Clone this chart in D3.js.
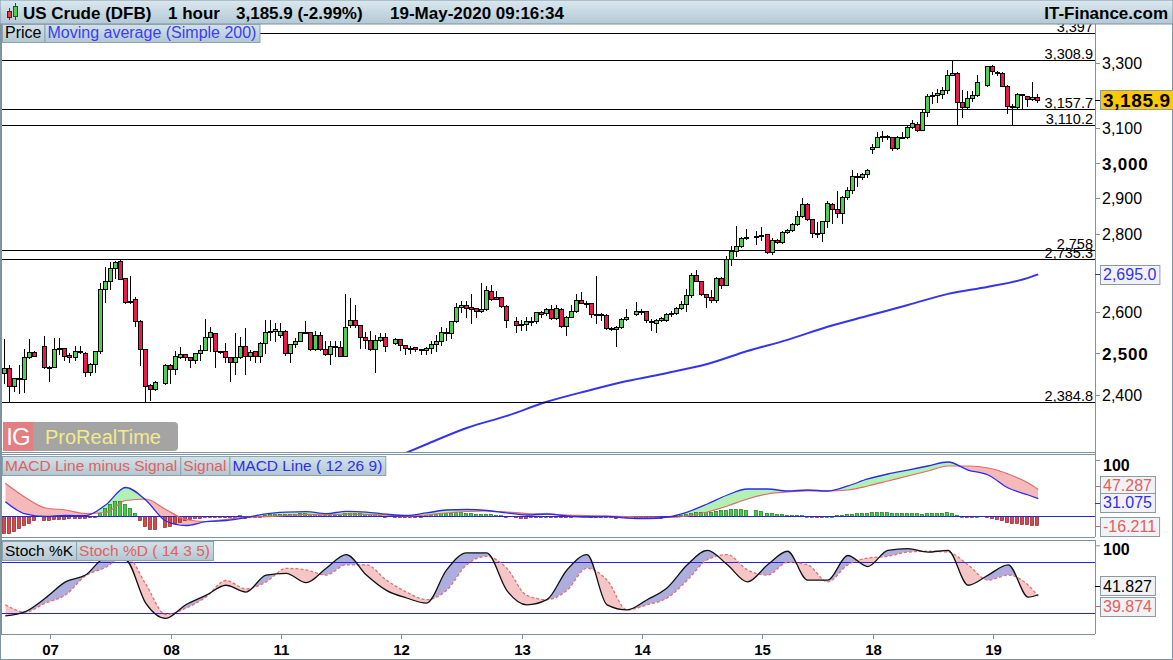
<!DOCTYPE html>
<html><head><meta charset="utf-8">
<script src="https://cdn.jsdelivr.net/npm/d3@7"></script>
<style>
body{margin:0;background:#fff;}
svg{display:block;font-family:"Liberation Sans",Arial,sans-serif;}
</style>
</head><body>
<svg id="c" width="1173" height="660"></svg>
<script>
// ---------------- DATA ----------------
// hourly candles, slot 0..206 (null = session break)
const open = [
2451,2463,2422,2437,2437,2489,2501,null,2515,2467,
2466,2508,2511,2494,2489,2505,2499,2455,2473,2503,
2657,2678,2711,2730,2685,2624,2632,2576,2508,2424,
2414,null,2428,2471,2461,2489,2496,2489,2483,2499,
2507,2538,2547,2503,2505,2489,2477,2489,2517,2491,
2504,2493,2524,2549,2552,2542,2553,2499,2521,2528,
2549,2550,2510,2542,2508,2498,2516,2513,2492,2567,
2580,2567,2537,2530,2508,2530,2537,null,2523,2533,
2518,2511,2513,2508,2506,2511,2521,2529,2549,2548,
2576,2611,2617,2611,2609,2602,2606,2653,2638,2637,
2615,null,2576,2568,2570,2577,2578,2599,2596,2606,
2584,2606,2565,2588,2602,2630,2623,2622,2594,2595,
2593,2559,2557,2563,2581,null,2594,2602,2601,2578,
2572,2580,2580,2595,2597,2609,2620,2641,2693,2678,
2644,2637,2630,2685,2668,2734,2757,2770,2790,null,
2794,2799,2800,2754,2785,2780,2806,2812,2828,2850,
2883,2841,2803,2803,2837,2883,2869,2858,2902,2922,
2962,2958,2967,3038,3046,3075,3076,3074,3041,3075,
3074,3103,3113,3095,3150,3198,3201,3203,3216,3263,
3270,3180,3163,3190,3201,null,3232,3290,3271,3269,
3229,3167,3163,3203,3198,3187,3194];
const high = [
2533,2471,2441,2471,2509,2533,2503,null,2541,2468,
2536,2536,2512,2499,2516,2515,2501,2475,2503,2672,
2715,2728,2730,2735.3,2686,2691,2638,2580,2509,2425,
2432,null,2473,2472,2503,2513,2497,2490,2499,2519,
2582,2563,2548,2505,2524,2490,2547,2539,2559,2507,
2505,2525,2580,2580,2572,2572,2554,2522,2535,2551,
2576,2551,2553,2551,2529,2529,2528,2528,2645,2634,
2617,2568,2551,2553,2543,2547,2547,null,2535,2534,
2519,2516,2514,2510,2513,2527,2543,2562,2559,2576,
2622,2626,2626,2645,2610,2672,2664,2668,2653,2638,
2616,null,2588,2580,2588,2588,2600,2601,2609,2617,
2617,2609,2589,2617,2645,2651,2626,2623,2691,2598,
2594,2563,2564,2584,2606,null,2624,2607,2602,2582,
2582,2588,2598,2603,2613,2626,2657,2698,2706,2679,
2645,2655,2687,2687,2743,2768,2823,2792,2814,null,
2810,2821,2801,2790,2787,2810,2816,2832,2865,2899,
2885,2842,2835,2837,2890,2885,2920,2905,2931,2979,
2969,2971,2982,3053,3090,3093,3080,3075,3077,3090,
3107,3125,3120,3155,3204,3209,3218,3226,3278,3308.9,
3271,3216,3214,3214,3263,null,3290,3295,3274,3271,
3230,3172,3208,3205,3199,3242,3204];
const low = [
2428,2384.8,2411,2405,2408,2487,2492,null,2463,2434,
2465,2497,2483,2479,2483,2500,2445,2447,2455,2500,
2625,2657,2685,2683,2622,2622,2565,2471,2388,2389,
2413,null,2426,2428,2450,2487,2483,2467,2475,2483,
2506,2503,2466,2499,2479,2432,2450,2488,2450,2483,
2479,2479,2499,2531,2529,2539,2494,2479,2513,2527,
2547,2507,2507,2507,2494,2473,2492,2491,2491,2563,
2563,2512,2512,2507,2455,2528,2503,null,2521,2507,
2496,2500,2503,2496,2496,2500,2503,2519,2531,2535,
2575,2600,2588,2572,2588,2600,2605,2629,2631,2613,
2563,null,2551,2555,2555,2567,2573,2588,2592,2583,
2583,2563,2543,2587,2600,2621,2613,2588,2572,2580,
2557,2555,2515,2561,2580,null,2592,2595,2575,2555,
2551,2577,2578,2590,2595,2606,2603,2638,2677,2642,
2611,2625,2625,2659,2667,2719,2743,2767,2787,null,
2775,2785,2750,2748,2778,2778,2803,2810,2825,2848,
2839,2792,2792,2783,2821,2830,2848,2832,2896,2913,
2933,2954,2960,3028,3045,3063,3067,3036,3040,3070,
3072,3100,3093,3094,3137,3175,3180,3190,3206,3262,
3110.2,3135,3162,3183,3197,null,3229,3266,3263,3227,
3147,3112,3162,3157.7,3167,3186,3180];
const close = [
2463,2422,2440,2440,2489,2501,2493,null,2466,2466,
2508,2511,2493,2489,2505,2501,2454,2473,2503,2657,
2678,2711,2728,2683,2624,2628,2576,2508,2422,2414,
2430,null,2471,2461,2491,2496,2489,2483,2499,2507,
2538,2550,2503,2502,2489,2477,2489,2515,2491,2501,
2493,2524,2549,2553,2557,2553,2499,2521,2528,2549,
2550,2510,2542,2508,2497,2516,2515,2492,2563,2580,
2567,2539,2530,2508,2530,2537,2516,null,2533,2518,
2511,2512,2508,2507,2511,2521,2529,2549,2548,2576,
2611,2617,2609,2607,2602,2606,2655,2632,2632,2615,
2580,null,2567,2570,2577,2578,2599,2594,2606,2584,
2609,2565,2588,2602,2630,2623,2622,2594,2595,2593,
2559,2558,2563,2581,2586,null,2603,2601,2580,2574,
2580,2585,2595,2597,2609,2620,2641,2693,2678,2644,
2637,2630,2685,2668,2734,2757,2770,2790,2792,null,
2795,2796,2754,2785,2780,2806,2812,2828,2850,2883,
2841,2803,2804,2837,2887,2869,2858,2902,2922,2962,
2958,2967,2979,3046,3075,3076,3074,3041,3075,3074,
3103,3117,3095,3150,3198,3201,3206,3216,3263,3270,
3180,3163,3190,3201,3240,null,3290,3274,3269,3229,
3167,3163,3204,3200,3187,3194,3185.9];

// Simple moving average 200 (read at these slots)
const maSlots  = [76,84,92,100,108,116,124,132,140,148,156,164,172,180,188,196,204,206];
const maValues = [2253,2290,2326,2353,2385,2410,2433,2452,2473,2504,2531,2563,2590,2617,2645,2663,2686,2695];

// horizontal levels
const levelValues = [3397,3308.9,3157.7,3110.2,2758,2735.3,2384.8];
const levelLabels = ["3,397","3,308.9","3,157.7","3,110.2","2,758","2,735.3","2,384.8"];

const priceTicks = [3300,3100,3000,2900,2800,2600,2500,2400];
const priceTickLabels = ["3,300","3,100","3,000","2,900","2,800","2,600","2,500","2,400"];
const boldPriceTicks = [3000,2500];

const daySlots  = [9,33,55,79,103,127,151,173,197];
const dayLabels = ["07","08","11","12","13","14","15","18","19"];

// indicators sampled at these slots
const indSlots = [0,4,8,12,16,20,24,28,32,36,40,44,48,52,56,60,64,68,72,76,80,84,88,92,96,100,
  104,108,112,116,120,124,128,132,136,140,144,148,152,156,160,164,168,172,176,180,184,188,192,196,200,204,206];
const macdLine = [25.5,3.6,-0.9,0.9,0.5,19.6,50.9,28.6,-8.9,-17,-10.2,-8,-2.7,3.9,6.8,7.7,4.1,8.4,7.1,3.2,0.9,5.4,10.7,11.6,9.8,5.4,
  1.8,3.6,0,-1.8,-0.9,-3.6,-4.5,-1.8,7.1,21.4,37.5,48.2,48.2,44.6,46.4,44.6,53.6,66.1,75,82.1,89.3,96.4,82.1,73.2,50,37.5,31.075];
const signalLine = [58.4,33,14.3,10.7,4.5,6.25,27.7,30.4,11.6,-6.25,-9.8,-6.25,-1.8,-1.25,0.9,3,2.1,3.2,3,1.4,0,1.8,5.4,8,8.9,7.1,
  4.5,3.6,1.8,0.9,0,-0.9,-1.8,-2.7,0,7.1,17.9,30.4,39.3,42.9,44.6,44.6,46.4,53.6,62.5,71.4,80.4,89.3,89.3,85.7,75,58.9,47.287];
const histogram = [
-30,-30,-26,-22,-16,-12,-8,null,-8,-7,
-6,-5,-5,-4,-4,-3,-3,-2,-1,5,
14,22,27,27,22,15,6,-8,-18,-24,
-24,null,-20,-17,-13,-10,-8,-6,-4,-3,
-2,-1,-2,-2,-1,-2,-1,1,-3,-2,
-2,-2,2,3,3,4,3,3,4,5,
5,4,3,2,1,1,2,2,5,6,
6,5,4,3,3,2,-1,null,-1,-2,
-2,-2,-1,-1,1,2,3,5,6,6,
7,7,6,5,4,4,4,3,2,1,
-1,null,-2,-3,-3,-2,-1,-1,0,-1,
-1,-2,-2,-1,1,1,1,0,-1,-1,
-2,-2,-3,-2,-1,null,-3,-3,-4,-4,
-4,-3,-2,-1,1,2,4,6,7,7,
7,8,9,10,11,12,13,12,11,null,
10,9,6,5,4,3,2,2,2,2,
0,-1,-1,-1,0,0,1,2,3,4,
5,5,6,7,8,8,7,6,5,5,
5,6,5,4,5,6,6,6,7,5,
2,0,-1,-1,0,null,-2,-4,-5,-7,
-10,-12,-13,-14,-15,-16,-16.211];
const stochK = [17,22,38,57,65,85,83,32,14,30,41,53,45,65,67,56,73,89,65,47,38,32,71,91,91,47,
  30,36,71,89,30,24,36,50,77,94,77,57,77,93,59,59,88,75,94,96,92,94,53,65,77,39,41.827];
const stochD = [30,21.5,32,41.5,64,74,88.6,54.5,18.6,26,39,58.6,48.6,56.8,72.9,71,65,77,77,59,45,36,47,77,87,73,
  41,36,47,73,59,24,30,38,59,83,89,71,65,80,77,57,77,85,87,92,93,92,77,59,65,53,39.874];

// ---------------- LAYOUT ----------------
const W = 1173, H = 660;
const PL = 2, PR = 1095;
const priceTop = 24, priceBot = 452;
const macdTop = 455, macdBot = 537;
const stochTop = 540, stochBot = 634;
const frame = "#7d93a0";

const svg = d3.select("#c");
const defs = svg.append("defs");

function grad(id, c1, c2){
  const g = defs.append("linearGradient").attr("id", id).attr("x1",0).attr("y1",0).attr("x2",0).attr("y2",1);
  g.append("stop").attr("offset","0%").attr("stop-color",c1);
  g.append("stop").attr("offset","100%").attr("stop-color",c2);
}
grad("hdr", "#dbe8ef", "#b3c9d5");
grad("leg", "#d3e2ea", "#b2c7d2");

function clip(id, y0, y1){
  defs.append("clipPath").attr("id", id).append("rect")
    .attr("x", PL).attr("y", y0).attr("width", PR - PL).attr("height", y1 - y0);
}
clip("cpPrice", priceTop, priceBot);
clip("cpMacd", macdTop, macdBot);
clip("cpStoch", stochTop, stochBot);

const x  = d3.scaleLinear().domain([0, 206]).range([5.3, 1038.3]);
const yP = d3.scaleLog().domain([2273, 3426]).range([priceBot, priceTop]);
const yM = d3.scaleLinear().domain([0, 100]).range([516, 460]);
const yS = d3.scaleLinear().domain([20, 80]).range([613.3, 562.3]);

svg.append("rect").attr("width", W).attr("height", H).attr("fill", "#fff");

// ---------------- PRICE PANEL ----------------
const gP = svg.append("g").attr("clip-path", "url(#cpPrice)");

const maData = maSlots.map((s, k) => ({s, v: maValues[k]}));
gP.append("path").datum(maData)
  .attr("fill", "none").attr("stroke", "#3535e8").attr("stroke-width", 2)
  .attr("d", d3.line().x(d => x(d.s)).y(d => yP(d.v)).curve(d3.curveMonotoneX));

levelValues.forEach((v, k) => {
  const yy = Math.round(yP(v)) + 0.5;
  gP.append("line").attr("x1", PL).attr("x2", PR).attr("y1", yy).attr("y2", yy)
    .attr("stroke", "#000").attr("stroke-width", 1);
  gP.append("text").attr("x", PR - 2).attr("y", yy - 2).attr("text-anchor", "end")
    .attr("font-size", 14.5).attr("fill", "#000").text(levelLabels[k]);
});

const candles = close.map((c, i) => c == null ? null : {i, o: open[i], h: high[i], l: low[i], c})
  .filter(d => d);
const cx = d => Math.round(x(d.i));
gP.selectAll("line.wick").data(candles).join("line").attr("class", "wick")
  .attr("x1", d => cx(d) - 0.5).attr("x2", d => cx(d) - 0.5)
  .attr("y1", d => Math.round(yP(d.h))).attr("y2", d => Math.round(yP(d.l)) + 1)
  .attr("stroke", "#000").attr("stroke-width", 1);
gP.selectAll("rect.body").data(candles).join("rect").attr("class", "body")
  .attr("x", d => cx(d) - 2.5)
  .attr("y", d => Math.round(yP(Math.max(d.o, d.c))) + 0.5)
  .attr("width", 4)
  .attr("height", d => Math.max(1, Math.round(yP(Math.min(d.o, d.c))) - Math.round(yP(Math.max(d.o, d.c)))))
  .attr("fill", d => d.c >= d.o ? "#4fcf4f" : "#ea1a4d")
  .attr("stroke", "#000").attr("stroke-width", 1);

// ProRealTime logo
const logo = svg.append("g");
logo.append("rect").attr("x", 46).attr("y", 422).attr("width", 132).attr("height", 29).attr("rx", 4).attr("fill", "#a4a4a4");
logo.append("rect").attr("x", 33).attr("y", 422).attr("width", 20).attr("height", 29).attr("fill", "#a4a4a4");
logo.append("rect").attr("x", 3).attr("y", 422).attr("width", 30).attr("height", 29).attr("fill", "#e37e83");
logo.append("text").attr("x", 18).attr("y", 445).attr("text-anchor", "middle").attr("font-size", 24)
  .attr("fill", "#fff").attr("letter-spacing", -1).text("IG");
logo.append("text").attr("x", 45).attr("y", 444).attr("font-size", 20).attr("fill", "#f3ea8e").text("ProRealTime");

// ---------------- MACD PANEL ----------------
const gM = svg.append("g").attr("clip-path", "url(#cpMacd)");
const macdData = indSlots.map((s, k) => ({s, m: macdLine[k], g: signalLine[k]}));
const cm = d3.curveMonotoneX;
const aboveSig = d3.area().x(d => x(d.s)).y0(macdTop - 5).y1(d => yM(d.g)).curve(cm);
const belowSig = d3.area().x(d => x(d.s)).y0(d => yM(d.g)).y1(macdBot + 5).curve(cm);
defs.append("clipPath").attr("id", "cpMA").append("path").attr("d", aboveSig(macdData));
defs.append("clipPath").attr("id", "cpMB").append("path").attr("d", belowSig(macdData));
const between = d3.area().x(d => x(d.s)).y0(d => yM(d.g)).y1(d => yM(d.m)).curve(cm);
gM.append("g").attr("clip-path", "url(#cpMA)").append("path").datum(macdData)
  .attr("d", between).attr("fill", "#b3f0b3");
gM.append("g").attr("clip-path", "url(#cpMB)").append("path").datum(macdData)
  .attr("d", between).attr("fill", "#f6b9b9");

const histData = histogram.map((v, i) => v == null ? null : {i, v}).filter(d => d);
gM.selectAll("rect.h").data(histData).join("rect").attr("class", "h")
  .attr("x", d => Math.round(x(d.i)) - 2.5)
  .attr("y", d => Math.round(Math.min(yM(0), yM(d.v))) + 0.5)
  .attr("width", 3)
  .attr("height", d => Math.max(1, Math.round(Math.abs(yM(d.v) - yM(0)))))
  .attr("fill", d => d.v >= 0 ? "#3fcf3f" : "#d84848")
  .attr("stroke", d => d.v >= 0 ? "#1f7a1f" : "#8a2020").attr("stroke-width", 0.7);

gM.append("line").attr("x1", PL).attr("x2", PR).attr("y1", Math.round(yM(0)) + 0.5).attr("y2", Math.round(yM(0)) + 0.5)
  .attr("stroke", "#2424e0").attr("stroke-width", 1);
gM.append("path").datum(macdData).attr("fill", "none").attr("stroke", "#e06a6a").attr("stroke-width", 1.2)
  .attr("d", d3.line().x(d => x(d.s)).y(d => yM(d.g)).curve(cm));
gM.append("path").datum(macdData).attr("fill", "none").attr("stroke", "#2a2aee").attr("stroke-width", 1.3)
  .attr("d", d3.line().x(d => x(d.s)).y(d => yM(d.m)).curve(cm));

// ---------------- STOCH PANEL ----------------
const gS = svg.append("g").attr("clip-path", "url(#cpStoch)");
const stData = indSlots.map((s, k) => ({s, k: stochK[k], d: stochD[k]}));
const aboveD = d3.area().x(d => x(d.s)).y0(stochTop - 5).y1(d => yS(d.d)).curve(cm);
const belowD = d3.area().x(d => x(d.s)).y0(d => yS(d.d)).y1(stochBot + 5).curve(cm);
defs.append("clipPath").attr("id", "cpSA").append("path").attr("d", aboveD(stData));
defs.append("clipPath").attr("id", "cpSB").append("path").attr("d", belowD(stData));
const betweenS = d3.area().x(d => x(d.s)).y0(d => yS(d.d)).y1(d => yS(d.k)).curve(cm);
gS.append("g").attr("clip-path", "url(#cpSA)").append("path").datum(stData)
  .attr("d", betweenS).attr("fill", "#adadde");
gS.append("g").attr("clip-path", "url(#cpSB)").append("path").datum(stData)
  .attr("d", betweenS).attr("fill", "#f6c6c6");
[80, 20].forEach(v => {
  const yy = Math.round(yS(v)) + 0.5;
  gS.append("line").attr("x1", PL).attr("x2", PR).attr("y1", yy).attr("y2", yy)
    .attr("stroke", "#2424e0").attr("stroke-width", 1);
});
gS.append("path").datum(stData).attr("fill", "none").attr("stroke", "#e56f6f").attr("stroke-width", 1.3)
  .attr("stroke-dasharray", "3,2")
  .attr("d", d3.line().x(d => x(d.s)).y(d => yS(d.d)).curve(cm));
gS.append("path").datum(stData).attr("fill", "none").attr("stroke", "#111").attr("stroke-width", 1.3)
  .attr("d", d3.line().x(d => x(d.s)).y(d => yS(d.k)).curve(cm));

// ---------------- FRAMES ----------------
const fr = svg.append("g").attr("fill", "none").attr("stroke", frame).attr("stroke-width", 1);
fr.append("rect").attr("x", 0.5).attr("y", 0.5).attr("width", W - 1).attr("height", H - 1);
fr.append("line").attr("x1", 1.5).attr("x2", 1.5).attr("y1", 24).attr("y2", stochBot);
fr.append("line").attr("x1", PR + 0.5).attr("x2", PR + 0.5).attr("y1", 24).attr("y2", macdBot);
fr.append("line").attr("x1", PR + 0.5).attr("x2", PR + 0.5).attr("y1", stochTop).attr("y2", stochBot);
[priceBot + 0.5, macdTop - 0.5, macdBot + 0.5, stochTop + 0.5, stochBot + 0.5].forEach(yy => {
  fr.append("line").attr("x1", 0).attr("x2", PR).attr("y1", yy).attr("y2", yy);
});

// ---------------- HEADER ----------------
svg.append("rect").attr("x", 0).attr("y", 0).attr("width", W).attr("height", 24)
  .attr("fill", "url(#hdr)").attr("stroke", frame);
svg.append("line").attr("x1", 9.5).attr("x2", 9.5).attr("y1", 8).attr("y2", 20).attr("stroke", "#7a2020");
svg.append("rect").attr("x", 7.5).attr("y", 11.5).attr("width", 4).attr("height", 6).attr("fill", "#e8404a").attr("stroke", "#5a1a1a");
svg.append("line").attr("x1", 15.5).attr("x2", 15.5).attr("y1", 3).attr("y2", 20).attr("stroke", "#1a5a1a");
svg.append("rect").attr("x", 13.5).attr("y", 6.5).attr("width", 4).attr("height", 10).attr("fill", "#4fcf4f").attr("stroke", "#1a5a1a");
const hdrText = [["US Crude (DFB)", 23], ["1 hour", 168], ["3,185.9 (-2.99%)", 236], ["19-May-2020 09:16:34", 390]];
hdrText.forEach(([t, xx]) => svg.append("text").attr("x", xx).attr("y", 18.5).attr("font-size", 17)
  .attr("font-weight", "bold").attr("fill", "#000").text(t));
svg.append("text").attr("x", 1168).attr("y", 18.5).attr("text-anchor", "end").attr("font-size", 17)
  .attr("font-weight", "bold").attr("fill", "#000").text("IT-Finance.com");

// ---------------- LEGENDS ----------------
function legend(items, y0, h){
  let xx = 2;
  items.forEach(([t, col, fs]) => {
    const g = svg.append("g");
    const r = g.append("rect").attr("x", xx + 0.5).attr("y", y0 + 0.5).attr("height", h).attr("fill", "url(#leg)")
      .attr("stroke", "#8ea3af");
    const tx = g.append("text").attr("x", xx + 3).attr("y", y0 + h - 4.5).attr("font-size", fs || 16)
      .attr("fill", col).text(t);
    const w = tx.node().getComputedTextLength() + 6;
    r.attr("width", w);
    xx += w;
  });
}
legend([["Price", "#000"], ["Moving average (Simple 200)", "#3d3df5"]], 24, 18);
legend([["MACD Line minus Signal", "#e06060", 15.5], ["Signal", "#e06060", 15.5], ["MACD Line ( 12 26 9)", "#2f2fe6", 15.5]], 456, 19);
legend([["Stoch %K", "#000", 15.5], ["Stoch %D ( 14 3 5)", "#e06060", 15.5]], 541, 19);

// ---------------- RIGHT AXES ----------------
const ax = svg.append("g");
priceTicks.forEach((v, k) => {
  const yy = Math.round(yP(v)) + 0.5;
  const bold = boldPriceTicks.includes(v);
  ax.append("line").attr("x1", PR).attr("x2", PR + 5).attr("y1", yy).attr("y2", yy).attr("stroke", frame);
  ax.append("text").attr("x", PR + 7).attr("y", yy).attr("dy", "0.36em")
    .attr("font-size", bold ? 17 : 16).attr("font-weight", bold ? "bold" : "normal")
    .attr("letter-spacing", bold ? 0.8 : 0).attr("fill", "#000").text(priceTickLabels[k]);
});
function valueBox(yc, txt, col, bg, fs, bold, mark){
  const g = svg.append("g");
  if (mark) g.append("line").attr("x1", PR).attr("x2", PR + 5).attr("y1", Math.round(yc) + 0.5).attr("y2", Math.round(yc) + 0.5).attr("stroke", mark);
  const r = g.append("rect").attr("x", 1100.5).attr("y", Math.round(yc - 9.5) + 0.5).attr("height", 19)
    .attr("fill", bg).attr("stroke", "#8a9ba6");
  const t = g.append("text").attr("x", 1103).attr("y", yc).attr("dy", "0.36em").attr("font-size", fs)
    .attr("font-weight", bold ? "bold" : "normal").attr("letter-spacing", bold ? 0.6 : 0).attr("fill", col).text(txt);
  r.attr("width", t.node().getComputedTextLength() + 6);
}
valueBox(yP(close[close.length - 1]), "3,185.9", "#000", "#ffc800", 19, true, "#000");
valueBox(yP(maValues[maValues.length - 1]), "2,695.0", "#3535e8", "#f2f2f6", 16, false, "#3535e8");

ax.append("line").attr("x1", PR).attr("x2", PR + 5).attr("y1", yM(100) + 0.5).attr("y2", yM(100) + 0.5).attr("stroke", frame);
ax.append("text").attr("x", PR + 8).attr("y", yM(100) + 5).attr("dy", "0.36em").attr("font-size", 16)
  .attr("font-weight", "bold").text("100");
valueBox(yM(signalLine[signalLine.length - 1]) - 4, "47.287", "#e06060", "#f2f2f4", 16, false, "#e06060");
valueBox(yM(macdLine[macdLine.length - 1]) + 4, "31.075", "#2f2fe6", "#f2f2f4", 16, false, "#2f2fe6");
valueBox(yM(histogram[histogram.length - 1]) + 1, "-16.211", "#e06060", "#f2f2f4", 16, false, "#e06060");

ax.append("line").attr("x1", PR).attr("x2", PR + 5).attr("y1", yS(100) + 0.5).attr("y2", yS(100) + 0.5).attr("stroke", frame);
ax.append("text").attr("x", PR + 8).attr("y", yS(100) + 4).attr("dy", "0.36em").attr("font-size", 16)
  .attr("font-weight", "bold").text("100");
valueBox(yS(stochK[stochK.length - 1]) - 9, "41.827", "#000", "#f2f2f4", 16, false, "#000");
valueBox(yS(stochD[stochD.length - 1]) + 10, "39.874", "#e06060", "#f2f2f4", 16, false, "#e06060");

// ---------------- X AXIS ----------------
daySlots.forEach((s, k) => {
  const xx = Math.round(x(s)) + 0.5;
  ax.append("line").attr("x1", xx).attr("x2", xx).attr("y1", stochBot).attr("y2", stochBot + 5).attr("stroke", frame);
  ax.append("text").attr("x", xx).attr("y", 655).attr("text-anchor", "middle").attr("font-size", 15)
    .attr("font-weight", "bold").text(dayLabels[k]);
});
</script>
</body></html>
